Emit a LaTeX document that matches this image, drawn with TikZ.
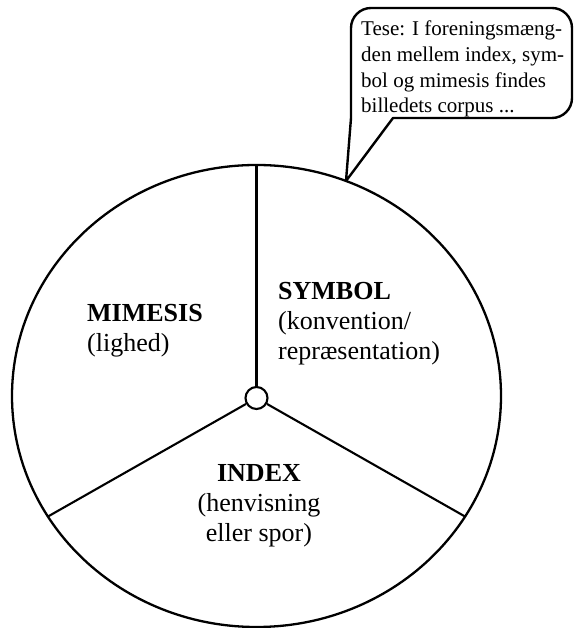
\documentclass[tikz,border=0pt]{standalone}
\usepackage{fontspec}
\setmainfont{Liberation Serif}

\begin{document}
\begin{tikzpicture}[x=1pt, y=1pt,
        rim/.style={line width=2.3pt},
        spoke/.style={line width=2.1pt},
        hub/.style={circle, draw, line width=2.1pt, fill=white, minimum size=22pt, inner sep=0pt},
        sector/.style={inner sep=0pt, font=\fontsize{26}{30}\selectfont},
        bubble/.style={line width=2.4pt, line join=round},
        tesetext/.style={inner sep=0pt, align=left, font=\fontsize{21}{25.6}\selectfont}]

        \useasboundingbox (0,0) rectangle (574,628);

        % wheel
        \draw [rim] (256.5,232) ellipse [x radius=244.5, y radius=231];

        \coordinate (rimtop) at (256.5,463);
        \coordinate (rimleft) at (48,111.5);
        \coordinate (rimright) at (465,111.5);
        \coordinate (tip) at (346,447);

        \node [hub] (hub) at (256.5,230) {};

        \draw [spoke] (hub) -- (rimtop);
        \draw [spoke] (hub) -- (rimleft);
        \draw [spoke] (hub) -- (rimright);

        % sectors
        \node [sector, anchor=north west, align=left] (mimesis) at (87,324) {\textbf{MIMESIS}\\(lighed)};
        \node [sector, anchor=north west, align=left] (symbol) at (278,346) {\textbf{SYMBOL}\\(konvention/\\repræsentation)};
        \node [sector, anchor=north, align=center] (index) at (259,164) {\textbf{INDEX}\\(henvisning\\eller spor)};

        % speech bubble
        \draw [bubble] (tip) -- (351,510) -- (351,600)
            arc [start angle=180, end angle=90, radius=20] -- (552,620)
            arc [start angle=90, end angle=0, radius=20] -- (572,530)
            arc [start angle=0, end angle=-90, radius=20] -- (393,510) -- cycle;

        \node [tesetext, anchor=north west] (tese) at (361,607) {Tese: I foreningsmæng-\\den mellem index, sym-\\bol og mimesis findes\\billedets corpus ...};

\end{tikzpicture}
\end{document}
